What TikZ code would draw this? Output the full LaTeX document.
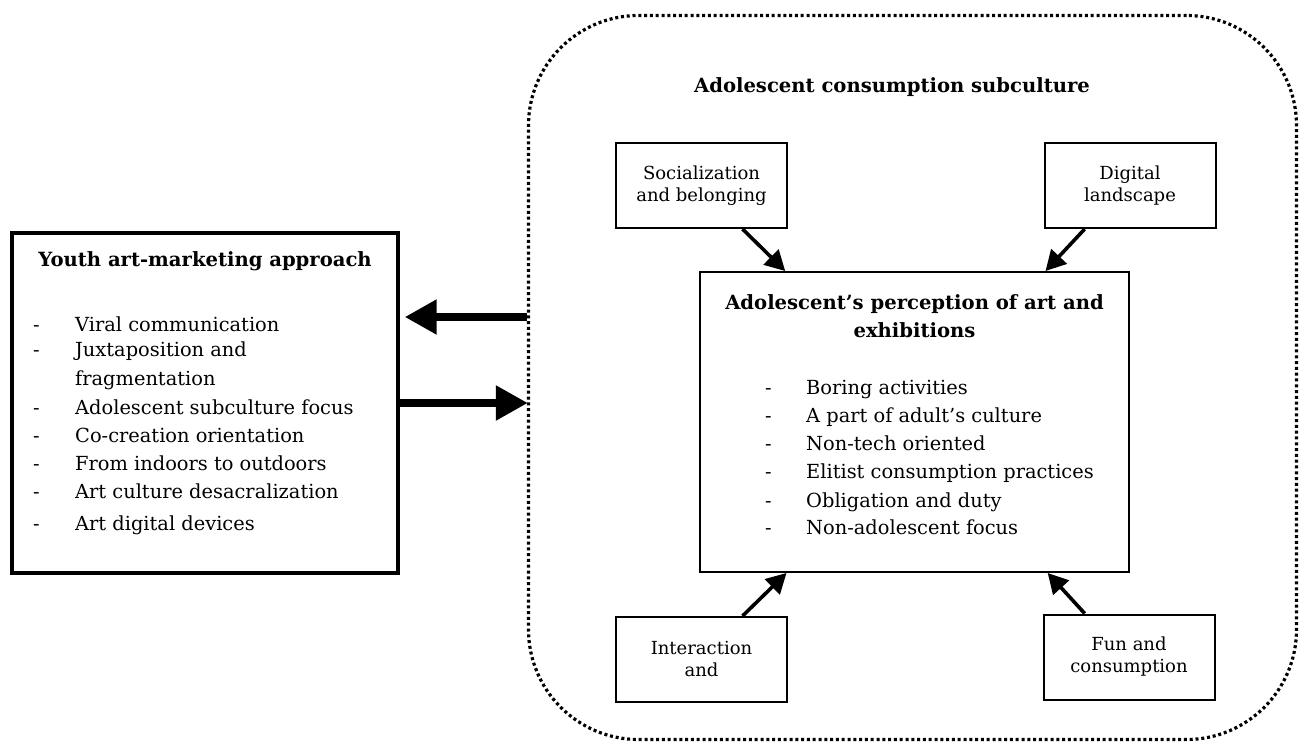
\documentclass[tikz,border=0pt]{standalone}
\usepackage{fontspec}
\setmainfont{DejaVu Serif}
\usetikzlibrary{arrows.meta,calc}

\begin{document}
\begin{tikzpicture}[x=1pt,y=-1pt,
  body/.style={font=\fontsize{19.4}{22}\selectfont, inner sep=0pt},
  heading/.style={font=\fontsize{19.6}{22}\selectfont\bfseries, inner sep=0pt},
  bigbox/.style={draw, line width=3.4pt, inner sep=0pt},
  midbox/.style={draw, line width=2pt, inner sep=0pt},
  smallbox/.style={draw, line width=2pt, inner sep=0pt, minimum width=171pt,
    minimum height=85pt, align=center, font=\fontsize{18}{22}\selectfont},
  frame/.style={draw, line width=3.2pt, dash pattern=on 3pt off 2.8pt,
    rounded corners=110pt, inner sep=0pt},
  wide/.style={line width=8pt, -{Triangle[length=32pt,width=33pt]}},
  slant/.style={line width=3.6pt, -{Triangle[length=20pt,width=21pt]}},
]
\useasboundingbox (0,0) rectangle (1299,743);

% dotted frame of the subculture
\node[frame, minimum width=768pt, minimum height=724pt] (frame) at (912.5,377.5) {};
\node[heading, anchor=base] (subtitle) at (892,93) {Adolescent consumption subculture};

% left box: youth art-marketing approach
\node[bigbox, minimum width=386pt, minimum height=340pt] (yth) at (205,403) {};
\node[heading, anchor=base] (ytitle) at (205,267) {Youth art-marketing approach};
\foreach \yy/\tt [count=\i] in {332/Viral communication, 357/Juxtaposition and,
    414/Adolescent subculture focus, 442/Co-creation orientation,
    470/From indoors to outdoors, 498/Art culture desacralization,
    530/Art digital devices}
  \node[body, anchor=base west] (ya\i) at (33,\yy) {\makebox[42pt][l]{-}\tt};
\node[body, anchor=base west] (yfrag) at (75,385) {fragmentation};

% centre box: perception of art
\node[midbox, minimum width=429pt, minimum height=300pt] (perc) at (914.5,422) {};
\node[heading, anchor=base] (ptitle1) at (914.5,310) {Adolescent’s perception of art and};
\node[heading, anchor=base] (ptitle2) at (914.5,338) {exhibitions};
\foreach \yy/\tt [count=\i] in {395/Boring activities, 422/A part of adult’s culture,
    450/Non-tech oriented, 478/Elitist consumption practices,
    507/Obligation and duty, 534/Non-adolescent focus}
  \node[body, anchor=base west] (pa\i) at (765,\yy) {\makebox[41pt][l]{-}\tt};

% four surrounding factors
\node[smallbox] (soc) at (701.5,185.5) {Socialization\\and belonging};
\node[smallbox] (dig) at (1130,185.5) {Digital\\landscape};
\node[smallbox] (int) at (701.5,659.5) {Interaction\\and};
\node[smallbox] (fun) at (1129,657) {Fun and\\consumption};

% links between the two sides
\draw[wide] ([yshift=60.5pt]frame.west) -- ([xshift=5pt,yshift=86pt]yth.east);
\draw[wide] (yth.east) -- ([xshift=1pt,yshift=-25.5pt]frame.west);

% factors feeding the perception
\draw[slant] ($(soc.south west)!0.737!(soc.south east)$) -- ($(perc.north west)!0.2!(perc.north east)$);
\draw[slant] ($(dig.south west)!0.238!(dig.south east)$) -- ($(perc.north west)!0.804!(perc.north east)$);
\draw[slant] ($(int.north west)!0.737!(int.north east)$) -- ($(perc.south west)!0.203!(perc.south east)$);
\draw[slant] ($(fun.north west)!0.244!(fun.north east)$) -- ($(perc.south west)!0.809!(perc.south east)$);
\end{tikzpicture}
\end{document}
